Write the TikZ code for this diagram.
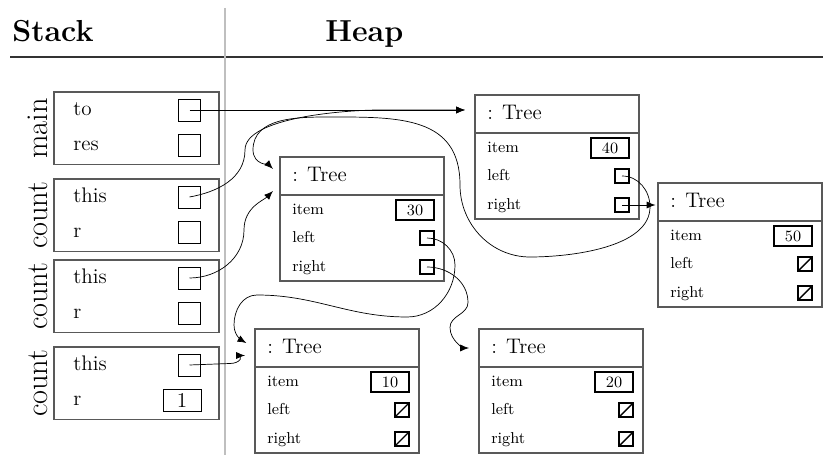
\documentclass[tikz,border=0pt]{standalone}
\usetikzlibrary{arrows.meta}

\newcommand{\treeobj}[5]{%
  \begin{scope}[shift={#2}]
    \draw[boxline] (0,0) rectangle (3.28,-2.48);
    \draw[boxline] (0,-0.76) -- (3.28,-0.76);
    \coordinate (#1) at (0,-0.38);
    \node[hdr] at (0.24,-0.5) {: Tree};
    \node[fieldname] at (0.24,-1.16) {item};
    \node[fieldname] at (0.24,-1.72) {left};
    \node[fieldname] at (0.24,-2.30) {right};
    \node[valbox] (#1-i) at (2.7,-1.06) {#3};
    \node[#4] (#1-l) at (2.94,-1.62) {};
    \node[#5] (#1-r) at (2.94,-2.20) {};
  \end{scope}}

\begin{document}
\begin{tikzpicture}[
  boxline/.style={draw=black!65, line width=0.8pt},
  title/.style={anchor=base west, inner sep=0, font=\LARGE\bfseries},
  hdr/.style={anchor=base west, inner sep=0, font=\large},
  fieldname/.style={anchor=base west, inner sep=0, font=\small},
  varname/.style={anchor=base west, inner sep=0, font=\large},
  ptrbox/.style={draw, minimum size=0.44cm, inner sep=0},
  intbox/.style={draw, minimum width=0.76cm, minimum height=0.44cm, inner sep=0, font=\large},
  valbox/.style={draw, thick, minimum width=0.76cm, minimum height=0.4cm, inner sep=0, font=\small},
  hptr/.style={draw, thick, minimum size=0.28cm, inner sep=0},
  nullptr/.style={hptr, path picture={\draw[thick] (path picture bounding box.south west) -- (path picture bounding box.north east);}},
  ptr/.style={->, >={Latex[length=5pt,width=4pt]}, shorten >=0.2cm}]
\useasboundingbox (0,0) rectangle (16.46,9.1);

\node[title] (stack) at (0.24,8.26) {Stack};
\node[title] (heap) at (6.5,8.26) {Heap};
\draw[black!80, line width=0.8pt] (0.2,7.96) -- (16.46,7.96);
\draw[black!25, line width=1.1pt] (4.5,8.94) -- (4.5,0);

\foreach \f/\ty/\fn/\va/\vb in {m/7.26/main/to/res, c1/5.52/count/this/r, c2/3.90/count/this/r, c3/2.16/count/this/r} {
  \draw[boxline] (1.08,\ty) rectangle (4.38,\ty-1.45);
  \node[rotate=90, anchor=base, font=\LARGE] (\f) at (0.94,\ty-0.725) {\fn};
  \node[varname] at (1.46,\ty-0.47) {\va};
  \node[varname] at (1.46,\ty-1.18) {\vb};
  \node[ptrbox] (\f-a) at (3.79,\ty-0.36) {};
}
\foreach \f/\ty in {m/7.26, c1/5.52, c2/3.90} \node[ptrbox] (\f-b) at (3.79,\ty-1.07) {};
\node[intbox] (c3-b) at (3.64,1.09) {1};

\treeobj{T40}{(9.5,7.2)}{40}{hptr}{hptr}
\treeobj{T30}{(5.6,5.96)}{30}{hptr}{hptr}
\treeobj{T50}{(13.16,5.44)}{50}{nullptr}{nullptr}
\treeobj{T10}{(5.1,2.52)}{10}{nullptr}{nullptr}
\treeobj{T20}{(9.58,2.52)}{20}{nullptr}{nullptr}

\draw[ptr] (m-a.center) -- (m-a.center -| T40);
\draw[ptr] (c1-a.center) to[out=10,in=-90] (4.9,6.1) to[out=90,in=180,looseness=0.6] (7.6,6.9) -- (m-a.center -| T40);
\draw[ptr] (c2-a.center) to[out=0,in=-90] (4.88,4.5) to[out=90,in=-135] ([yshift=-0.16cm]T30);
\draw[ptr] (c3-a.center) -- (4.6,1.83) to[out=0,in=180] ([yshift=-0.15cm]T10);
\draw[ptr] (T40-l.center) to[out=0,in=90] (13,4.96) to[out=-90,in=0,looseness=0.8] (10.6,3.96)
  to[out=180,in=-90] (9.2,5.4) to[out=90,in=0,looseness=1.2] (6.6,6.76)
  to[out=180,in=90] (5.06,6.1) to[out=-90,in=135] (T30);
\draw[ptr, shorten >=0.05cm] (T40-r.center) -- (T40-r.center -| T50);
\draw[ptr] (T30-l.center) to[out=0,in=90] (9.1,3.8) to[out=-90,in=0] (8.14,2.76)
  to[out=180,in=0] (5.14,3.2) to[out=180,in=90] (4.68,2.6) to[out=-90,in=150] (T10);
\draw[ptr] (T30-r.center) to[out=0,in=90] (9.36,3.05) to[out=-90,in=90] (9.0,2.55) to[out=-90,in=180] (T20);
\end{tikzpicture}
\end{document}
